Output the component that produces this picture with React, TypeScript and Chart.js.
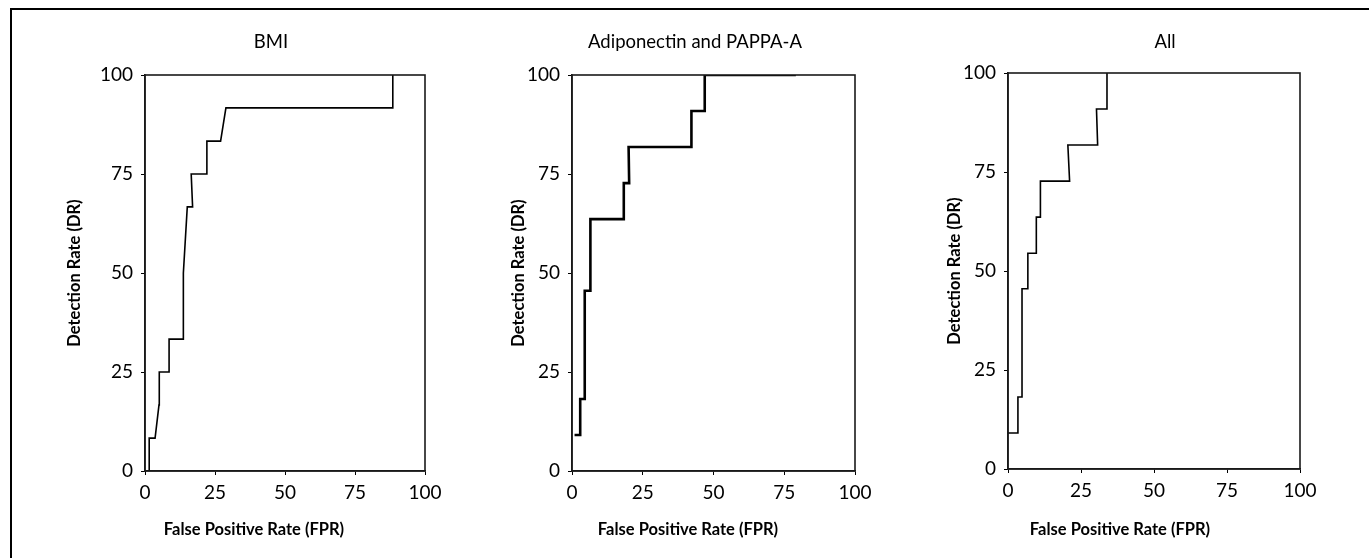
import React, { useEffect, useRef } from 'react';
import { Chart, registerables } from 'chart.js';

Chart.register(...registerables);

// ---- Data ----
const panelTitles = ['BMI', 'Adiponectin and PAPPA-A', 'All'];
const xAxisTitle = 'False Positive Rate (FPR)';
const yAxisTitle = 'Detection Rate (DR)';
const xTickValues = [0, 25, 50, 75, 100];
const yTickValues = [0, 25, 50, 75, 100];

const bmiFpr = [1.5, 1.5, 3.6, 5.0, 5.1, 8.6, 8.6, 13.7, 13.7, 15.1, 17.0, 16.5, 22.1, 22.1, 27.0, 28.9, 88.5, 88.5];
const bmiDr = [0, 8.3, 8.3, 16.7, 25, 25, 33.3, 33.3, 50, 66.7, 66.7, 75, 75, 83.3, 83.3, 91.7, 91.7, 100];

const adipoFpr = [0.9, 2.9, 2.9, 4.5, 4.5, 6.5, 6.5, 18.3, 18.3, 20.2, 20.0, 42.2, 42.2, 46.9, 46.9, 79.1];
const adipoDr = [9.1, 9.1, 18.2, 18.2, 45.5, 45.5, 63.6, 63.6, 72.7, 72.7, 81.8, 81.8, 90.9, 90.9, 100, 100];

const allFpr = [0, 3.4, 3.4, 4.8, 4.8, 6.8, 6.8, 9.7, 9.7, 11.1, 11.1, 21.1, 20.5, 30.7, 30.3, 33.9, 33.9];
const allDr = [9.1, 9.1, 18.2, 18.2, 45.5, 45.5, 54.5, 54.5, 63.6, 63.6, 72.7, 72.7, 81.8, 81.8, 90.9, 90.9, 100];

// ---- Layout (page pixels) ----
const W = 1369;
const H = 558;
const FONT = 'Lato, "Open Sans", sans-serif';

const panelLayouts = [
  { L: 145, R: 425, T: 75, B: 471, yTitleX: 75, titleX: 271, xTitleX: 254, lineWidth: 1.6 },
  { L: 572, R: 855, T: 75, B: 471, yTitleX: 519, titleX: 695, xTitleX: 688, lineWidth: 2.6 },
  { L: 1008, R: 1300, T: 73, B: 469, yTitleX: 955, titleX: 1165, xTitleX: 1120, lineWidth: 1.6 },
];

const seriesX = [bmiFpr, adipoFpr, allFpr];
const seriesY = [bmiDr, adipoDr, allDr];

const tickFontSize = 19;
const axisTitleFontSize = 16.5;
const yTitleLineHeight = 1.2;

const panelTextPlugin = {
  id: 'panelText',
  afterDraw(chart: any, _args: any, opts: any) {
    const ctx = chart.ctx;
    const { left, right, top, bottom } = chart.chartArea;
    ctx.save();
    ctx.strokeStyle = '#1a1a1a';
    ctx.lineWidth = 1.6;
    ctx.strokeRect(left, top, right - left, bottom - top);
    for (const it of opts.items || []) {
      ctx.font = it.font;
      ctx.fillStyle = '#000';
      ctx.textAlign = 'center';
      ctx.textBaseline = 'middle';
      ctx.fillText(it.text, it.x, it.y);
    }
    ctx.restore();
  },
};

function Panel({ index }: { index: number }) {
  const ref = useRef<HTMLCanvasElement | null>(null);
  useEffect(() => {
    const lay = panelLayouts[index];
    const xs = seriesX[index];
    const ys = seriesY[index];
    const points = xs.map((x, i) => ({ x, y: ys[i] }));
    const padLeft = lay.yTitleX - (axisTitleFontSize * yTitleLineHeight) / 2;
    const chart = new Chart(ref.current as HTMLCanvasElement, {
      type: 'line',
      data: {
        datasets: [
          {
            data: points,
            borderColor: '#000',
            borderWidth: lay.lineWidth,
            pointRadius: 0,
            tension: 0,
            fill: false,
          },
        ],
      },
      options: {
        responsive: false,
        animation: false,
        devicePixelRatio: 1,
        layout: {
          padding: { left: padLeft, right: W - lay.R, top: lay.T, bottom: 0 },
        },
        plugins: {
          legend: { display: false },
          tooltip: { enabled: false },
          panelText: {
            items: [
              { text: panelTitles[index], x: lay.titleX, y: 42, font: `18.5px ${FONT}` },
              { text: xAxisTitle, x: lay.xTitleX, y: 530, font: `bold ${axisTitleFontSize}px ${FONT}` },
            ],
          },
        } as any,
        scales: {
          x: {
            type: 'linear',
            min: 0,
            max: 100,
            afterBuildTicks: (s: any) => {
              s.ticks = xTickValues.map((v) => ({ value: v }));
            },
            afterFit: (s: any) => {
              s.height = H - lay.B;
            },
            ticks: {
              color: '#000',
              font: { family: FONT, size: tickFontSize },
              padding: 6,
              maxRotation: 0,
            },
            grid: {
              display: true,
              drawOnChartArea: false,
              drawTicks: true,
              tickLength: 4,
              color: '#000',
              lineWidth: 1,
            },
            border: { display: true, color: '#1a1a1a', width: 1.6 },
          },
          y: {
            type: 'linear',
            min: 0,
            max: 100,
            afterBuildTicks: (s: any) => {
              s.ticks = yTickValues.map((v) => ({ value: v }));
            },
            afterFit: (s: any) => {
              s.width = lay.L - padLeft;
            },
            ticks: {
              color: '#000',
              font: { family: FONT, size: tickFontSize },
              padding: 8,
            },
            grid: {
              display: true,
              drawOnChartArea: false,
              drawTicks: true,
              tickLength: 4,
              color: '#000',
              lineWidth: 1,
            },
            border: { display: true, color: '#1a1a1a', width: 1.6 },
            title: {
              display: true,
              text: yAxisTitle,
              color: '#000',
              font: { family: FONT, size: axisTitleFontSize, weight: 'bold', lineHeight: yTitleLineHeight },
              padding: { top: 0, bottom: 0 },
            },
          },
        },
      } as any,
      plugins: [panelTextPlugin as any],
    });
    return () => chart.destroy();
  }, [index]);
  return (
    <canvas
      ref={ref}
      width={W}
      height={H}
      style={{ position: 'absolute', left: 0, top: 0, width: W, height: H, display: 'block' }}
    />
  );
}

export default function App() {
  return (
    <div
      style={{
        position: 'fixed',
        left: 0,
        top: 0,
        width: W,
        height: H,
        overflow: 'hidden',
        background: '#fff',
      }}
    >
      <div
        style={{
          position: 'absolute',
          left: 10,
          top: 8,
          width: W,
          height: H,
          borderLeft: '2.5px solid #000',
          borderTop: '2.5px solid #000',
        }}
      />
      {panelTitles.map((_, i) => (
        <Panel key={i} index={i} />
      ))}
    </div>
  );
}
